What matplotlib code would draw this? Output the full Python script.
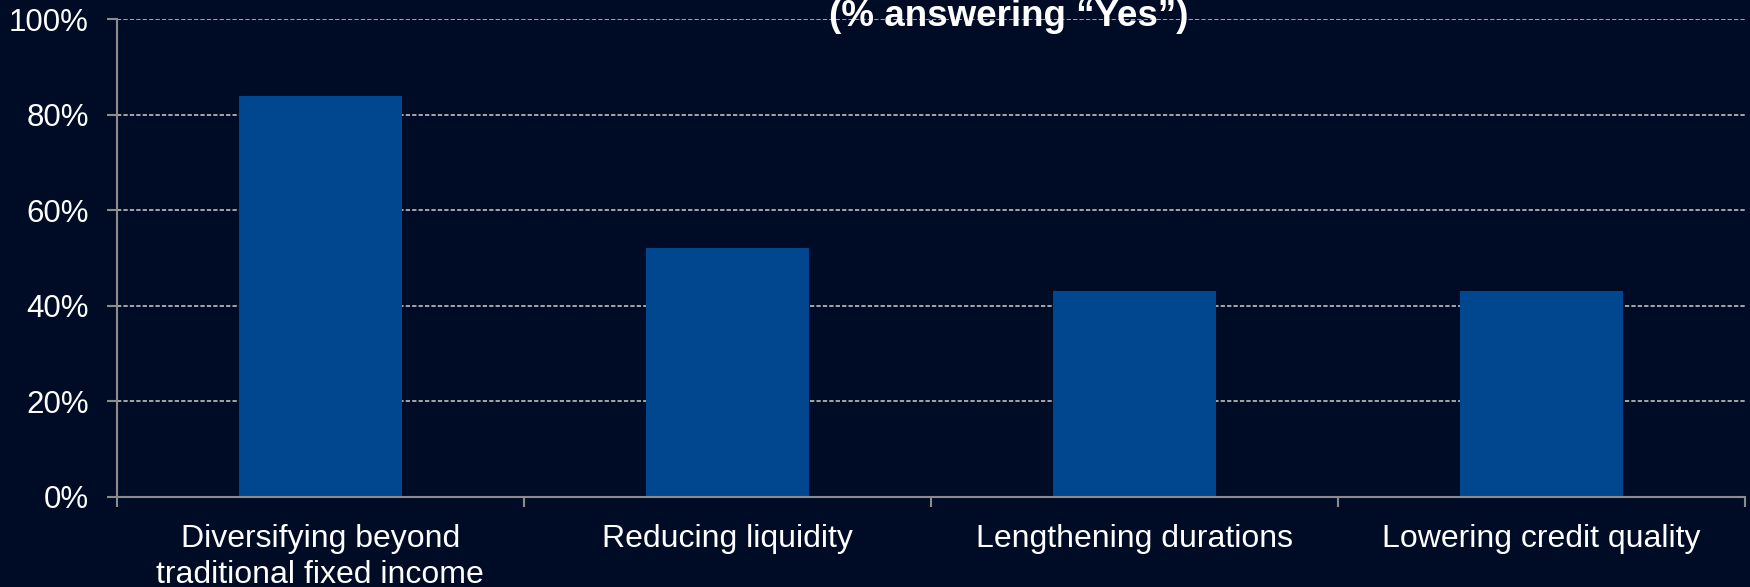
import matplotlib.pyplot as plt
from matplotlib.ticker import FixedLocator

plt.rcParams['font.family'] = ['Liberation Sans', 'DejaVu Sans']

categories = ['Diversifying beyond\ntraditional fixed income', 'Reducing liquidity',
              'Lengthening durations', 'Lowering credit quality']
values = [84, 52, 43, 43]
yticks = [0, 20, 40, 60, 80, 100]

bg = '#000c26'
bar_color = '#00478f'
axis_gray = '#8c8c8c'

fig = plt.figure(figsize=(17.5, 5.87), dpi=100, facecolor=bg)
ax = fig.add_axes([0.0667, 0.1538, 0.9304, 0.8135])
ax.set_facecolor(bg)

x = list(range(len(categories)))
ax.bar(x, values, width=0.4, color=bar_color, zorder=3)

ax.set_xlim(-0.5, len(categories) - 0.5)
ax.set_ylim(0, 100)

ax.set_yticks(yticks)
ax.set_yticklabels([f'{v}%' for v in yticks])
ax.yaxis.grid(True, color='#a6a6a6', linestyle=(0, (2.2, 1.1)), linewidth=1.4, zorder=1)

ax.set_xticks(x)
ax.set_xticklabels(categories, linespacing=1.22)
ax.xaxis.set_minor_locator(FixedLocator([i - 0.5 for i in range(len(categories) + 1)]))
ax.tick_params(axis='x', which='major', length=0, pad=20, labelsize=23, colors='white')
ax.tick_params(axis='x', which='minor', length=7, width=1.5, color=axis_gray, direction='out')
ax.tick_params(axis='y', length=7, width=1.5, color=axis_gray, pad=13, labelsize=22.5,
               labelcolor='white')

for s in ['top', 'right']:
    ax.spines[s].set_visible(False)
for s in ['left', 'bottom']:
    ax.spines[s].set_color(axis_gray)
    ax.spines[s].set_linewidth(1.5)
    ax.spines[s].set_zorder(4)

fig.text(0.5766, 1 - 26 / 587, '(% answering \u201cYes\u201d)', color='white', fontsize=26.5,
         fontweight='bold', ha='center', va='baseline')

fig.savefig('out.png', dpi=100, facecolor=bg)
